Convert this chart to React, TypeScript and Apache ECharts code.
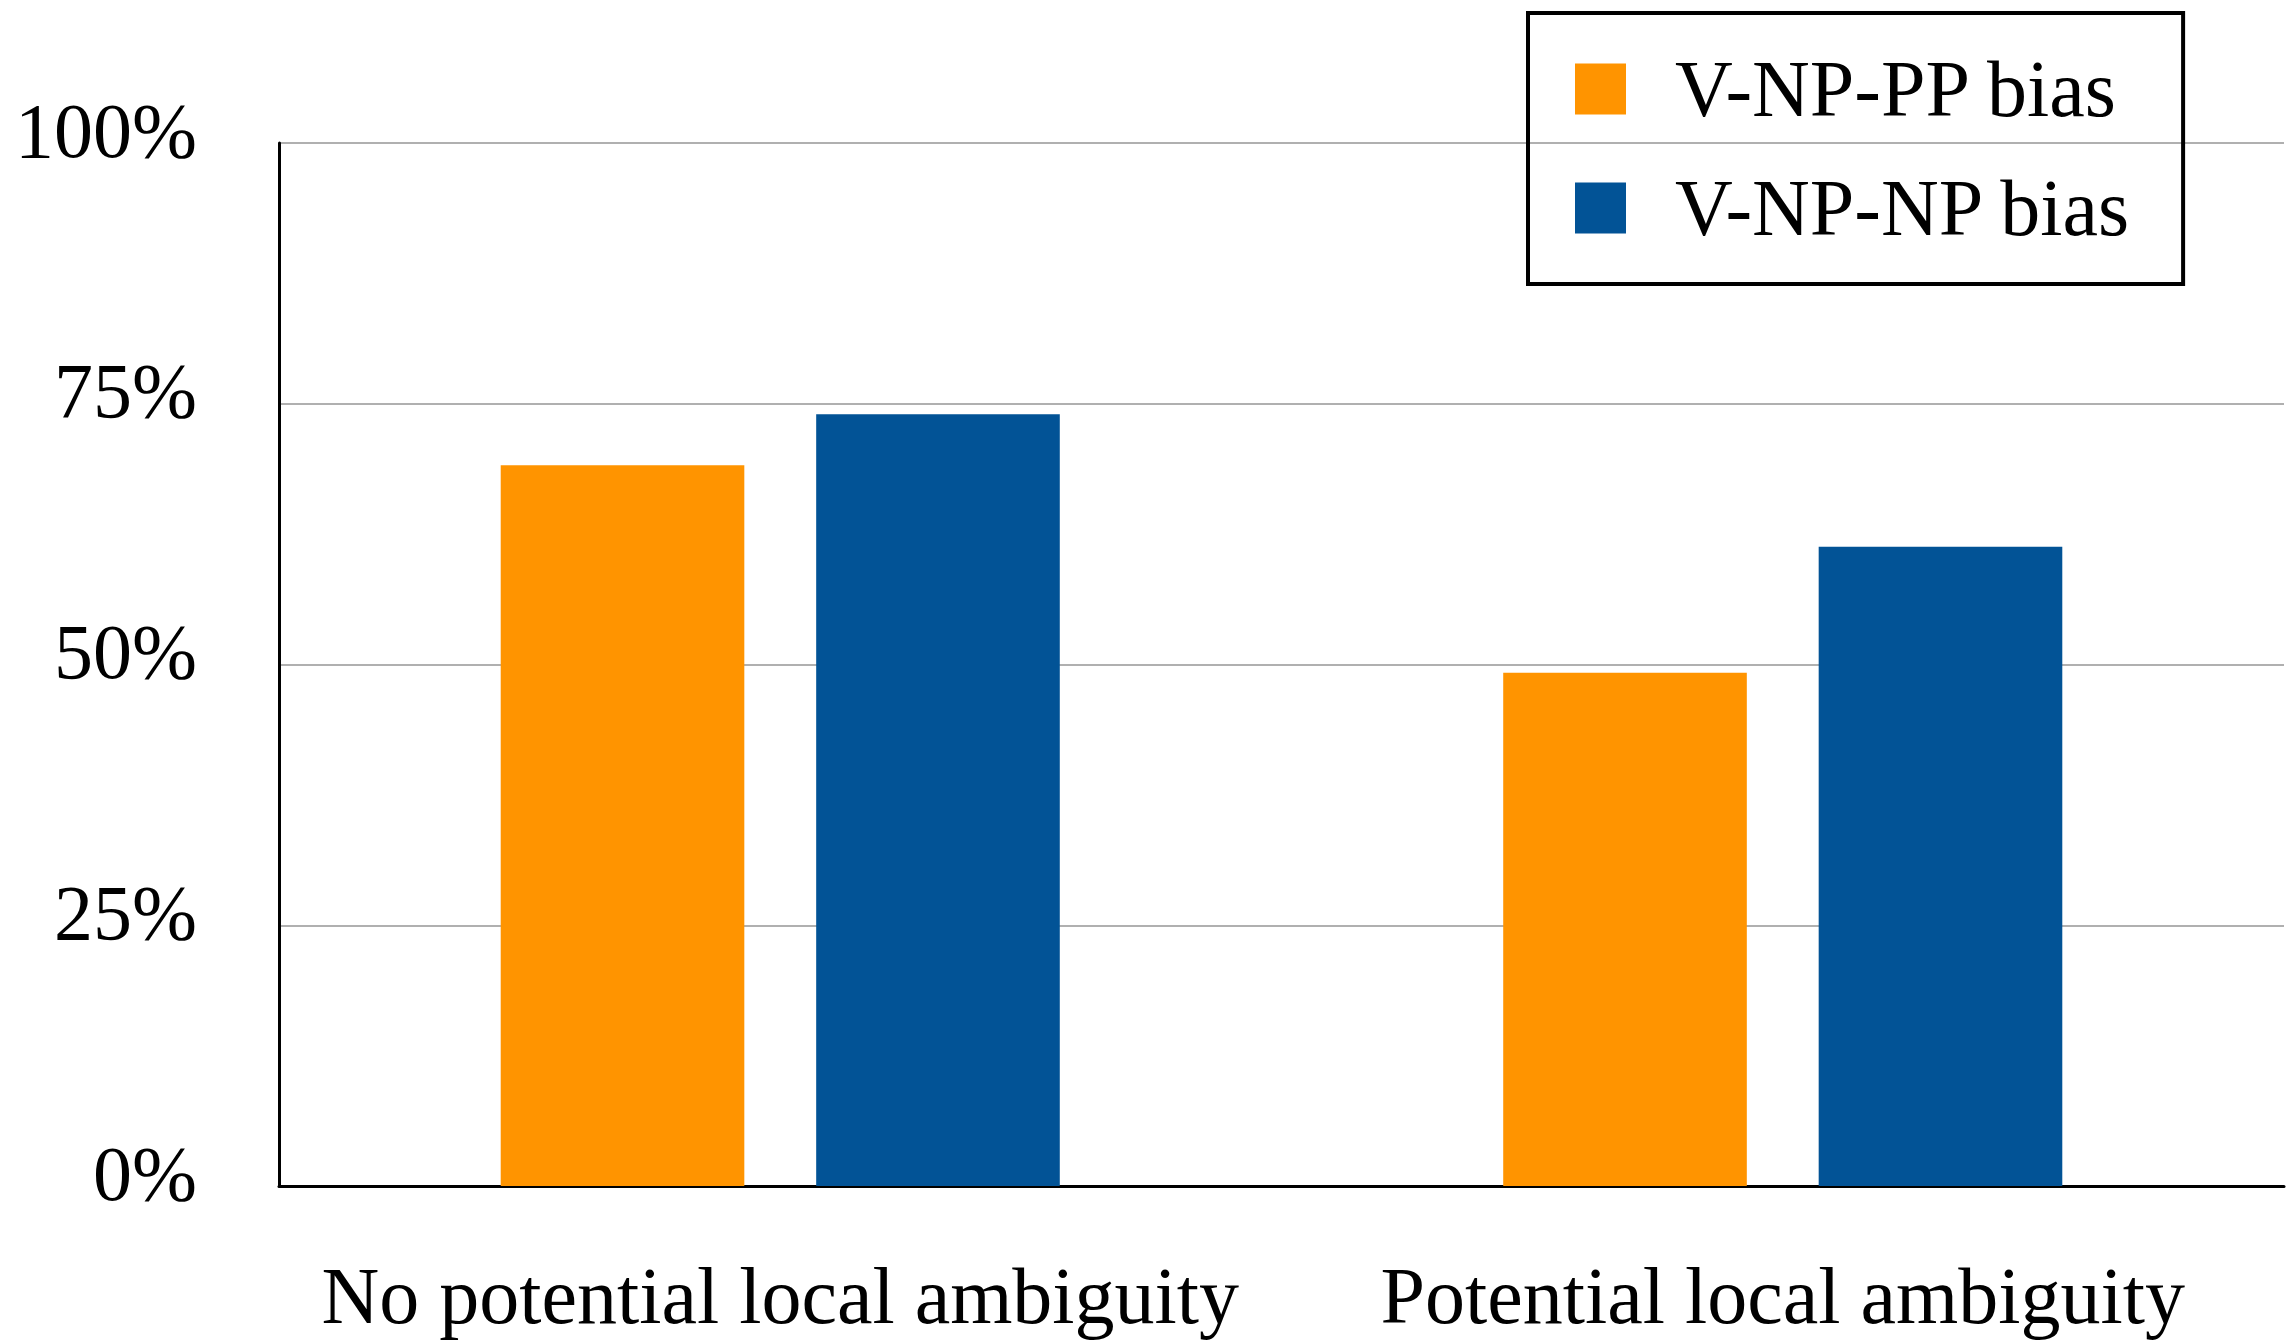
import React, { useEffect, useRef } from "react";
import * as echarts from "echarts";

const categories = ["No potential local ambiguity", "Potential local ambiguity"];
const seriesNames = ["V-NP-PP bias", "V-NP-NP bias"];
const ppBias = [69.1, 49.2];
const npBias = [74.0, 61.3];
const yTicks = [0, 25, 50, 75, 100];
const colors = ["#FF9400", "#025396"];

const FONT = "'Liberation Serif', 'Times New Roman', serif";

export default function App() {
  const ref = useRef<HTMLDivElement>(null);
  useEffect(() => {
    document.body.style.margin = "0";
    const chart = echarts.init(ref.current!, null, { renderer: "svg" });
    chart.setOption({
      animation: false,
      backgroundColor: "#ffffff",
      textStyle: { fontFamily: FONT },
      grid: { left: 279, right: 11, top: 143, bottom: 154, containLabel: false },
      legend: {
        orient: "vertical",
        left: 1528,
        top: 13,
        padding: [36, 51, 36, 47],
        borderColor: "#000",
        borderWidth: 4,
        itemWidth: 51,
        itemHeight: 51,
        itemGap: 39,
        icon: "rect",
        data: seriesNames,
        textStyle: {
          fontFamily: FONT,
          fontSize: 80,
          color: "#000",
          lineHeight: 51,
          padding: [0, 0, 0, 44],
        },
      },
      xAxis: {
        type: "category",
        data: categories,
        axisLine: { show: true, lineStyle: { color: "#000", width: 3 } },
        axisTick: { show: false },
        axisLabel: {
          fontFamily: FONT,
          fontSize: 80,
          color: "#000",
          margin: 70,
          interval: 0,
        },
      },
      yAxis: {
        type: "value",
        min: yTicks[0],
        max: yTicks[yTicks.length - 1],
        interval: 25,
        axisLine: { show: true, lineStyle: { color: "#000", width: 3 } },
        axisTick: { show: false },
        splitLine: { show: true, lineStyle: { color: "#b0b0b0", width: 2 } },
        axisLabel: {
          fontFamily: FONT,
          fontSize: 78,
          color: "#000",
          margin: 82,
          formatter: "{value}%",
          verticalAlign: "bottom",
          lineHeight: 26,
        },
      },
      series: [
        {
          name: seriesNames[0],
          type: "bar",
          data: ppBias,
          itemStyle: { color: colors[0] },
          barWidth: "24.3%",
          barGap: "29.5%",
        },
        {
          name: seriesNames[1],
          type: "bar",
          data: npBias,
          itemStyle: { color: colors[1] },
          barWidth: "24.3%",
          barGap: "29.5%",
        },
      ],
    });
    return () => chart.dispose();
  }, []);
  return <div ref={ref} style={{ width: 2295, height: 1340 }} />;
}
